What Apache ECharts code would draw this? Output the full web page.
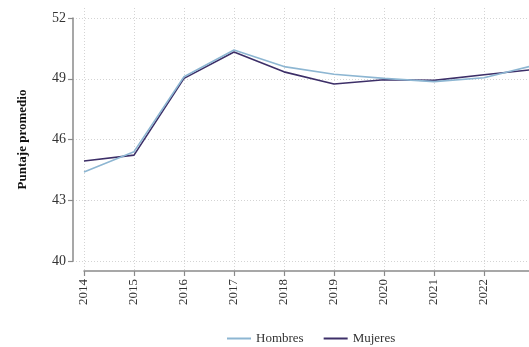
<!DOCTYPE html>
<html><head><meta charset="utf-8">
<script src="https://cdn.jsdelivr.net/npm/echarts@6/dist/echarts.min.js"></script>
<style>html,body{margin:0;padding:0;background:#fff}#c{width:529px;height:347px}</style>
</head><body><div id="c"></div>
<script>
const years = [2014, 2015, 2016, 2017, 2018, 2019, 2020, 2021, 2022, 2023];
const hombres = [44.4, 45.4, 49.1, 50.42, 49.6, 49.22, 49.02, 48.86, 49.05, 49.66];
const mujeres = [44.94, 45.23, 49.02, 50.32, 49.34, 48.74, 48.95, 48.92, 49.2, 49.46];
const yTicks = [40, 43, 46, 49, 52];
const seriesNames = ['Hombres', 'Mujeres'];
const colors = ['#8db6d2', '#3d2f68'];

const font = 'Liberation Serif';
const chart = echarts.init(document.getElementById('c'), null, {renderer: 'canvas'});
const gridLine = {show: true, lineStyle: {color: '#d4d4d4', type: [1, 2], width: 1}};
const hidden = {axisLine: {show: false}, axisTick: {show: false}, axisLabel: {show: false}};

chart.setOption({
  animation: false,
  textStyle: {fontFamily: font},
  grid: [
    {left: 84, right: -5, top: 18, bottom: 86, outerBoundsMode: 'none', containLabel: false},
    {left: 73, right: -16, top: 18, bottom: 86, outerBoundsMode: 'none', containLabel: false},
    {left: 84, right: -5, top: 8, bottom: 76, outerBoundsMode: 'none', containLabel: false}
  ],
  legend: {
    left: 222, top: 327, icon: 'rect', itemWidth: 24, itemHeight: 2, itemGap: 20,
    textStyle: {fontFamily: font, fontSize: 13, color: '#333'},
    data: seriesNames
  },
  xAxis: [
    {gridIndex: 0, type: 'value', min: years[0], max: years[years.length - 1], interval: 1, offset: 10,
     axisLine: {lineStyle: {color: '#8a8a8a', width: 1.5}},
     axisTick: {length: 5, lineStyle: {color: '#8a8a8a', width: 1.2}},
     axisLabel: {rotate: 90, fontFamily: font, fontSize: 13, color: '#333', margin: 8, formatter: v => String(v)},
     splitLine: {show: false}},
    Object.assign({gridIndex: 1, type: 'value', min: 2013.78, max: 2023.22, splitLine: {show: false}}, hidden),
    Object.assign({gridIndex: 2, type: 'value', min: years[0], max: years[years.length - 1], interval: 1, splitLine: gridLine}, hidden)
  ],
  yAxis: [
    {gridIndex: 0, type: 'value', min: yTicks[0], max: yTicks[yTicks.length - 1], interval: 3, offset: 11,
     name: 'Puntaje promedio', nameLocation: 'middle', nameGap: 44,
     nameTextStyle: {fontFamily: font, fontWeight: 'bold', fontSize: 13, color: '#111'},
     axisLine: {show: true, lineStyle: {color: '#8a8a8a', width: 1.5}},
     axisTick: {show: true, length: 5, lineStyle: {color: '#8a8a8a', width: 1.2}},
     axisLabel: {fontFamily: font, fontSize: 14, color: '#333', margin: 7},
     splitLine: {show: false}},
    Object.assign({gridIndex: 1, type: 'value', min: yTicks[0], max: yTicks[yTicks.length - 1], interval: 3,
     splitLine: {show: true, lineStyle: {color: '#d4d4d4', type: [1, 2], width: 1},
       interval: (i, v) => v !== yTicks[0]}}, hidden),
    Object.assign({gridIndex: 2, type: 'value', min: 0, max: 1, splitLine: {show: false}}, hidden)
  ],
  series: seriesNames.map((name, k) => ({
    name, type: 'line', xAxisIndex: 0, yAxisIndex: 0, symbol: 'none',
    data: years.map((y, i) => [y, (k === 0 ? hombres : mujeres)[i]]),
    lineStyle: {color: colors[k], width: 1.6}, itemStyle: {color: colors[k]}, z: 3 - k
  }))
});
</script></body></html>
